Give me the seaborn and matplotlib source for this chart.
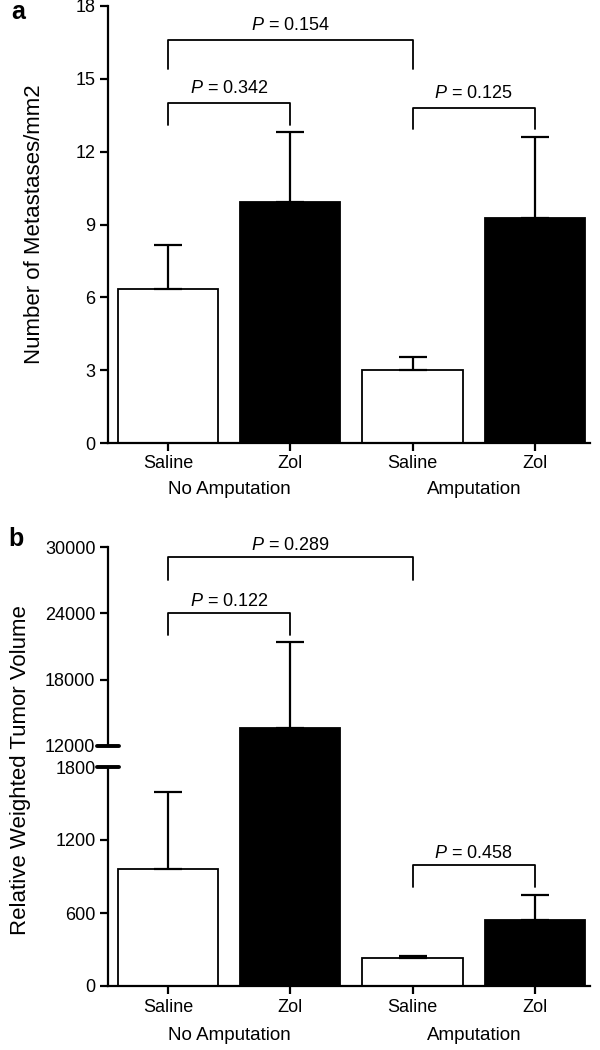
import numpy as np
import pandas as pd
import matplotlib
matplotlib.use("Agg")
import matplotlib.pyplot as plt
import matplotlib.transforms as mtransforms
import seaborn as sns

sns.set_theme(style="ticks")
plt.rcParams['font.family'] = ['Liberation Sans', 'DejaVu Sans']
plt.rcParams['mathtext.fontset'] = 'custom'
plt.rcParams['mathtext.it'] = 'Liberation Sans:italic'
plt.rcParams['mathtext.rm'] = 'Liberation Sans'
plt.rcParams['text.color'] = 'black'
plt.rcParams['axes.labelcolor'] = 'black'
plt.rcParams['xtick.color'] = 'black'
plt.rcParams['ytick.color'] = 'black'
plt.rcParams['axes.edgecolor'] = 'black'

# ---------------- data ----------------
bar_keys = ["NoAmp_Saline", "NoAmp_Zol", "Amp_Saline", "Amp_Zol"]
treatments = ["Saline", "Zol", "Saline", "Zol"]
tick_labels = ["Saline", "Zol", "Saline", "Zol"]
group_names = ["No Amputation", "Amputation"]

# panel a: metastases / mm2 (mean, upper SEM)
met_mean = [6.35, 9.92, 3.0, 9.25]
met_err = [1.8, 2.88, 0.55, 3.35]
met_ticks = [0, 3, 6, 9, 12, 15, 18]

# panel b: relative weighted tumor volume (mean, upper SEM)
vol_mean = [962, 13630, 230, 542]
vol_err = [633, 7770, 17, 206]
vol_low_ticks = [0, 600, 1200, 1800]
vol_high_ticks = [12000, 18000, 24000, 30000]

# comparisons: (bar i, bar j, p label)
met_comp = [(0, 2, "0.154"), (0, 1, "0.342"), (2, 3, "0.125")]
met_comp_y = [16.6, 14.0, 13.8]
met_comp_leg = [15.4, 13.1, 12.95]

vol_comp_high = [(0, 2, "0.289"), (0, 1, "0.122")]
vol_comp_high_y = [29100, 24030]
vol_comp_high_leg = [27000, 22040]
vol_comp_low = [(2, 3, "0.458")]
vol_comp_low_y = [995]
vol_comp_low_leg = [814]

# ---------------- styling ----------------
W, H = 600, 1050
fig = plt.figure(figsize=(W / 100, H / 100), dpi=100)
fig.patch.set_facecolor("white")

XL, XR = 108, 590
XLIM = (-0.49, 3.45)
LW_SPINE = 1.6
TICK_FS = 13
LABEL_FS = 16
P_FS = 13


def fig_rect(x0, x1, ytop, ybot):
    return [x0 / W, 1 - ybot / H, (x1 - x0) / W, (ybot - ytop) / H]


def draw_bars(ax, means, errs):
    df = pd.DataFrame({"key": bar_keys, "val": means, "trt": treatments})
    sns.barplot(data=df, x="key", y="val", hue="trt", order=bar_keys,
                palette={"Saline": "white", "Zol": "black"}, dodge=False,
                width=0.82, edgecolor="black", linewidth=1.3,
                errorbar=None, legend=False, ax=ax)
    x = np.arange(len(means))
    ax.errorbar(x, means, yerr=[np.zeros(len(errs)), errs], fmt="none",
                ecolor="black", elinewidth=1.6, capsize=10, capthick=1.6,
                zorder=3, clip_on=True)
    ax.set_xlim(*XLIM)
    ax.set_xlabel("")
    ax.set_ylabel("")
    ax.set_facecolor("white")
    ax.grid(False)


def style_axes(ax):
    for side in ["top", "right"]:
        ax.spines[side].set_visible(False)
    for side in ["left", "bottom"]:
        ax.spines[side].set_linewidth(LW_SPINE)
        ax.spines[side].set_color("black")
    ax.tick_params(axis="both", direction="out", length=6, width=LW_SPINE,
                   labelsize=TICK_FS, colors="black", pad=3)


def bracket(ax, i, j, y, leg, label, dy_text):
    ax.plot([i, i, j, j], [leg, y, y, leg], color="black", lw=1.3,
            clip_on=False, zorder=4)
    ax.text((i + j) / 2, y + dy_text, f"$P$ = {label}", ha="center",
            va="bottom", fontsize=P_FS, color="black")


def group_labels(ax, yfrac):
    trans = mtransforms.blended_transform_factory(ax.transData, ax.transAxes)
    for g, name in enumerate(group_names):
        ax.text(2 * g + 0.5, yfrac, name, transform=trans, ha="center",
                va="center", fontsize=13.5, color="black")


# ---------------- panel a ----------------
axa = fig.add_axes(fig_rect(XL, XR, 6, 443))
draw_bars(axa, met_mean, met_err)
style_axes(axa)
axa.set_ylim(0, 18)
axa.set_yticks(met_ticks)
axa.set_xticks(range(4))
axa.set_xticklabels(tick_labels)
axa.set_ylabel("Number of Metastases/mm2", fontsize=LABEL_FS, color="black")
axa.yaxis.set_label_coords((45 - XL) / (XR - XL), 0.5)
group_labels(axa, -(490 - 443) / (443 - 6))
for (i, j, lab), y, leg in zip(met_comp, met_comp_y, met_comp_leg):
    bracket(axa, i, j, y, leg, lab, 0.25)
fig.text(18 / W, 1 - 12 / H, "a", fontsize=18, fontweight="bold",
         ha="center", va="center")

# ---------------- panel b (broken axis) ----------------
axh = fig.add_axes(fig_rect(XL, XR, 547, 746))
axl = fig.add_axes(fig_rect(XL, XR, 767, 986))
draw_bars(axl, vol_mean, vol_err)
draw_bars(axh, vol_mean, vol_err)
style_axes(axh)
style_axes(axl)

axh.set_ylim(12000, 30000)
axh.set_yticks(vol_high_ticks)
axh.spines["bottom"].set_visible(False)
axh.tick_params(axis="x", bottom=False, labelbottom=False)

axl.set_ylim(0, 1800)
axl.set_yticks(vol_low_ticks)
axl.set_xticks(range(4))
axl.set_xticklabels(tick_labels)
group_labels(axl, -(1035 - 986) / (986 - 767))

# let the bars of the upper part run through the axis gap
gap_clip = mtransforms.TransformedBbox(
    mtransforms.Bbox([[XL / W, 1 - 770 / H], [XR / W, 1 - 547 / H]]),
    fig.transFigure)
for p in axh.patches:
    p.set_clip_box(gap_clip)
    p.set_clip_path(None)

# break marks
bw = 11 / (XR - XL)
axh.plot([-bw, bw], [0, 0], transform=axh.transAxes, color="black", lw=2.8,
         clip_on=False, zorder=5)
axl.plot([-bw, bw], [1, 1], transform=axl.transAxes, color="black", lw=2.8,
         clip_on=False, zorder=5)

for (i, j, lab), y, leg in zip(vol_comp_high, vol_comp_high_y, vol_comp_high_leg):
    bracket(axh, i, j, y, leg, lab, 250)
for (i, j, lab), y, leg in zip(vol_comp_low, vol_comp_low_y, vol_comp_low_leg):
    bracket(axl, i, j, y, leg, lab, 25)

fig.text(21 / W, 1 - 770 / H, "Relative Weighted Tumor Volume",
         fontsize=LABEL_FS, rotation=90, ha="center", va="center")
fig.text(16 / W, 1 - 539 / H, "b", fontsize=18, fontweight="bold",
         ha="center", va="center")

fig.savefig("out.png", dpi=100, facecolor="white")
